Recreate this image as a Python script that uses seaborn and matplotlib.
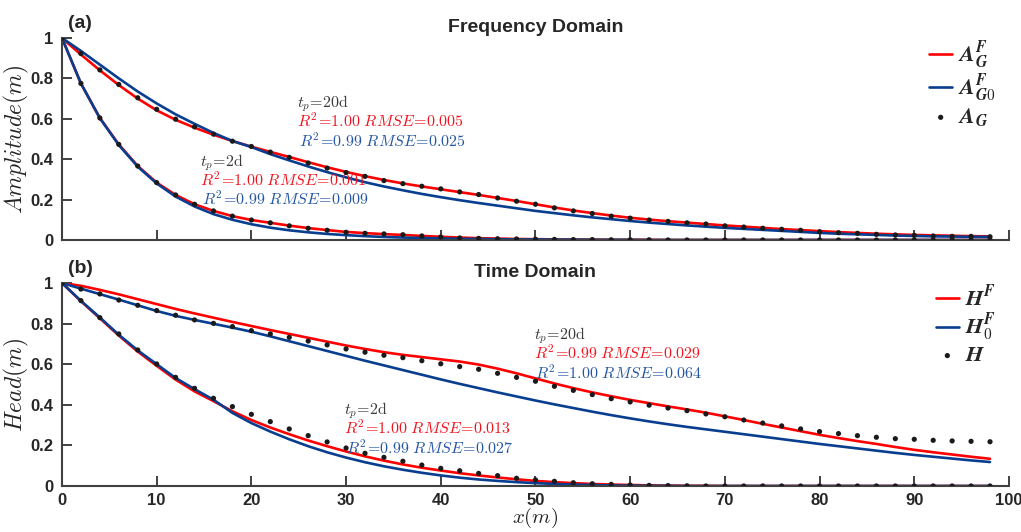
import numpy as np
import pandas as pd
import matplotlib
matplotlib.use('Agg')
import matplotlib.pyplot as plt
import seaborn as sns

# x positions of the observations / curves (m)
x = list(range(0, 100, 2))

# ---- (a) Frequency domain, amplitude ----
amp_obs_2d = [1.0, 0.775, 0.604, 0.473, 0.366, 0.284, 0.223, 0.177, 0.144, 0.118,
              0.099, 0.085, 0.070, 0.058, 0.048, 0.038, 0.033, 0.030, 0.026, 0.020,
              0.015, 0.010, 0.008, 0.006, 0.005, 0.004, 0.003, 0.002, 0.002, 0.001,
              0.001, 0.001, 0.0, 0.0, 0.0, 0.0, 0.0, 0.0, 0.0, 0.0,
              0.0, 0.0, 0.0, 0.0, 0.0, 0.0, 0.0, 0.0, 0.0, 0.0]
amp_fit_2d = [1.0, 0.775, 0.604, 0.473, 0.366, 0.284, 0.223, 0.177, 0.144, 0.118,
              0.099, 0.085, 0.071, 0.059, 0.049, 0.040, 0.034, 0.029, 0.025, 0.020,
              0.016, 0.012, 0.009, 0.007, 0.005, 0.004, 0.003, 0.002, 0.002, 0.001,
              0.001, 0.001, 0.0, 0.0, 0.0, 0.0, 0.0, 0.0, 0.0, 0.0,
              0.0, 0.0, 0.0, 0.0, 0.0, 0.0, 0.0, 0.0, 0.0, 0.0]
amp_fit0_2d = [1.0, 0.775, 0.603, 0.470, 0.363, 0.280, 0.215, 0.166, 0.128, 0.100,
               0.078, 0.061, 0.048, 0.038, 0.030, 0.024, 0.019, 0.015, 0.012, 0.010,
               0.008, 0.006, 0.005, 0.004, 0.003, 0.003, 0.002, 0.002, 0.001, 0.001,
               0.001, 0.0, 0.0, 0.0, 0.0, 0.0, 0.0, 0.0, 0.0, 0.0,
               0.0, 0.0, 0.0, 0.0, 0.0, 0.0, 0.0, 0.0, 0.0, 0.0]
amp_obs_20d = [1.0, 0.923, 0.842, 0.770, 0.704, 0.647, 0.598, 0.560, 0.524, 0.489,
               0.463, 0.435, 0.409, 0.381, 0.356, 0.334, 0.315, 0.294, 0.279, 0.266,
               0.253, 0.238, 0.225, 0.208, 0.192, 0.177, 0.159, 0.144, 0.131, 0.118,
               0.108, 0.099, 0.092, 0.085, 0.079, 0.070, 0.064, 0.058, 0.053, 0.048,
               0.041, 0.036, 0.033, 0.028, 0.025, 0.023, 0.020, 0.018, 0.018, 0.016]
amp_fit_20d = [1.0, 0.918, 0.840, 0.767, 0.700, 0.642, 0.595, 0.556, 0.521, 0.490,
               0.462, 0.436, 0.411, 0.385, 0.360, 0.337, 0.316, 0.297, 0.280, 0.265,
               0.251, 0.237, 0.223, 0.208, 0.193, 0.177, 0.161, 0.146, 0.133, 0.121,
               0.110, 0.101, 0.093, 0.086, 0.079, 0.072, 0.066, 0.060, 0.054, 0.049,
               0.044, 0.039, 0.035, 0.031, 0.028, 0.025, 0.023, 0.021, 0.019, 0.018]
amp_fit0_20d = [1.0, 0.936, 0.868, 0.800, 0.735, 0.676, 0.622, 0.575, 0.530, 0.490,
                0.460, 0.425, 0.394, 0.364, 0.336, 0.310, 0.286, 0.265, 0.246, 0.228,
                0.212, 0.197, 0.183, 0.170, 0.157, 0.144, 0.133, 0.122, 0.112, 0.103,
                0.094, 0.086, 0.079, 0.072, 0.066, 0.060, 0.055, 0.050, 0.045, 0.040,
                0.035, 0.031, 0.028, 0.025, 0.022, 0.020, 0.018, 0.017, 0.016, 0.015]

# ---- (b) Time domain, head ----
head_obs_2d = [1.0, 0.913, 0.829, 0.749, 0.670, 0.601, 0.535, 0.481, 0.432, 0.391,
               0.353, 0.317, 0.281, 0.248, 0.217, 0.187, 0.161, 0.141, 0.122, 0.103,
               0.087, 0.075, 0.062, 0.051, 0.038, 0.030, 0.023, 0.016, 0.011, 0.008,
               0.005, 0.003, 0.002, 0.001, 0.0, 0.0, 0.0, 0.0, 0.0, 0.0,
               0.0, 0.0, 0.0, 0.0, 0.0, 0.0, 0.0, 0.0, 0.0, 0.0]
head_fit_2d = [1.0, 0.910, 0.826, 0.741, 0.662, 0.592, 0.524, 0.466, 0.418, 0.368,
               0.325, 0.288, 0.255, 0.224, 0.196, 0.170, 0.146, 0.125, 0.106, 0.090,
               0.076, 0.063, 0.052, 0.042, 0.033, 0.025, 0.019, 0.014, 0.010, 0.007,
               0.005, 0.003, 0.002, 0.001, 0.001, 0.0, 0.0, 0.0, 0.0, 0.0,
               0.0, 0.0, 0.0, 0.0, 0.0, 0.0, 0.0, 0.0, 0.0, 0.0]
head_fit0_2d = [1.0, 0.912, 0.830, 0.745, 0.668, 0.600, 0.532, 0.477, 0.425, 0.360,
                0.310, 0.268, 0.230, 0.196, 0.166, 0.140, 0.117, 0.097, 0.080, 0.065,
                0.052, 0.041, 0.032, 0.025, 0.019, 0.014, 0.010, 0.007, 0.005, 0.003,
                0.002, 0.001, 0.001, 0.0, 0.0, 0.0, 0.0, 0.0, 0.0, 0.0,
                0.0, 0.0, 0.0, 0.0, 0.0, 0.0, 0.0, 0.0, 0.0, 0.0]
head_obs_20d = [1.0, 0.970, 0.946, 0.916, 0.890, 0.864, 0.841, 0.818, 0.801, 0.785,
                0.765, 0.749, 0.732, 0.714, 0.695, 0.675, 0.659, 0.644, 0.632, 0.617,
                0.602, 0.588, 0.575, 0.555, 0.535, 0.516, 0.491, 0.471, 0.450, 0.430,
                0.414, 0.398, 0.384, 0.371, 0.355, 0.341, 0.325, 0.310, 0.296, 0.281,
                0.268, 0.258, 0.248, 0.240, 0.233, 0.230, 0.225, 0.222, 0.220, 0.218]
head_fit_20d = [1.0, 0.986, 0.966, 0.944, 0.920, 0.896, 0.872, 0.850, 0.829, 0.808,
                0.788, 0.768, 0.749, 0.730, 0.711, 0.692, 0.675, 0.659, 0.646, 0.635,
                0.624, 0.613, 0.598, 0.578, 0.555, 0.530, 0.505, 0.482, 0.461, 0.442,
                0.424, 0.408, 0.392, 0.377, 0.361, 0.343, 0.325, 0.306, 0.288, 0.270,
                0.252, 0.236, 0.221, 0.207, 0.192, 0.178, 0.166, 0.155, 0.144, 0.134]
head_fit0_20d = [1.0, 0.972, 0.945, 0.918, 0.890, 0.862, 0.838, 0.818, 0.799, 0.780,
                 0.760, 0.737, 0.713, 0.689, 0.665, 0.641, 0.617, 0.594, 0.571, 0.548,
                 0.525, 0.503, 0.482, 0.461, 0.441, 0.421, 0.402, 0.384, 0.366, 0.349,
                 0.333, 0.318, 0.304, 0.291, 0.279, 0.267, 0.255, 0.243, 0.231, 0.219,
                 0.207, 0.196, 0.185, 0.174, 0.163, 0.153, 0.144, 0.135, 0.126, 0.118]

RED = '#ff0000'
BLUE = '#083e8f'
DOT = '#1a1a1a'
RED_TXT = '#f0141e'
BLUE_TXT = '#2456a4'
GREY_TXT = '#3a3a3a'

sns.set_style('ticks')
plt.rcParams['font.family'] = ['Liberation Sans', 'DejaVu Sans']
plt.rcParams['mathtext.fontset'] = 'cm'

fig = plt.figure(figsize=(10.21, 5.32), dpi=100)
ax1 = fig.add_axes([0.0607, 0.5489, 0.9275, 0.3797])
ax2 = fig.add_axes([0.0607, 0.0865, 0.9275, 0.3816])


def draw_panel(ax, fit_2d, fit0_2d, obs_2d, fit_20d, fit0_20d, obs_20d, labels):
    for fit, fit0, obs in [(fit_20d, fit0_20d, obs_20d), (fit_2d, fit0_2d, obs_2d)]:
        sns.lineplot(x=x, y=fit, ax=ax, color=RED, lw=1.9, label=labels[0])
        sns.lineplot(x=x, y=fit0, ax=ax, color=BLUE, lw=1.9, label=labels[1])
        sns.scatterplot(x=x, y=obs, ax=ax, color=DOT, s=14, edgecolor='none',
                        label=labels[2], zorder=5)
        labels = ['_nolegend_'] * 3
    ax.set_xlim(0, 100)
    ax.set_ylim(0, 1)
    ax.set_xticks(range(0, 101, 10))
    ax.set_yticks([0, 0.2, 0.4, 0.6, 0.8, 1])
    ax.set_yticklabels(['0', '0.2', '0.4', '0.6', '0.8', '1'])
    ax.tick_params(direction='in', length=7, width=1.3, color='#333333',
                   labelsize=12, labelcolor='#262626')
    ax.tick_params(axis='y', pad=6)
    ax.tick_params(axis='x', pad=5)
    for lab in ax.get_xticklabels() + ax.get_yticklabels():
        lab.set_fontweight('bold')
    sns.despine(ax=ax)
    for sp in ['left', 'bottom']:
        ax.spines[sp].set_linewidth(1.5)
        ax.spines[sp].set_color('#404040')
    ax.legend(loc='upper right', bbox_to_anchor=(1.0, 1.06), frameon=False,
              fontsize=16, handlelength=1.05, handletextpad=0.25,
              labelspacing=0.05, borderaxespad=0.2)
    ax.yaxis.set_label_coords(-0.033, 0.5)


def stats(ax, xt, yt, tp, r_red, e_red, r_blue, e_blue):
    eq = r'\!=\!'
    ax.text(xt, yt, r'$t_p%s\mathrm{%s}$' % (eq, tp), color=GREY_TXT, fontsize=11.5)
    ax.text(xt, yt - 0.096,
            r'$R^2%s%s\ RMSE%s%s$' % (eq, r_red, eq, e_red),
            color=RED_TXT, fontsize=11.5)
    ax.text(xt + 0.2, yt - 0.192,
            r'$R^2%s%s\ RMSE%s%s$' % (eq, r_blue, eq, e_blue),
            color=BLUE_TXT, fontsize=11.5)


draw_panel(ax1, amp_fit_2d, amp_fit0_2d, amp_obs_2d, amp_fit_20d, amp_fit0_20d, amp_obs_20d,
           [r'$\mathbfit{A}_{\mathbfit{G}}^{\mathbfit{F}}$',
            r'$\mathbfit{A}_{\mathbfit{G}\mathbf{0}}^{\mathbfit{F}}$',
            r'$\mathbfit{A}_{\mathbfit{G}}$'])
ax1.tick_params(labelbottom=False)
ax1.set_ylabel(r'$Amplitude(m)$', fontsize=17)
ax1.set_title('Frequency Domain', fontsize=14, fontweight='bold', pad=4)
ax1.text(0.006, 1.05, '(a)', transform=ax1.transAxes, fontsize=14, fontweight='bold')
stats(ax1, 24.8, 0.655, '20d', '1.00', '0.005', '0.99', '0.025')
stats(ax1, 14.6, 0.365, '2d', '1.00', '0.001', '0.99', '0.009')

draw_panel(ax2, head_fit_2d, head_fit0_2d, head_obs_2d, head_fit_20d, head_fit0_20d, head_obs_20d,
           [r'$\mathbfit{H}^{\mathbfit{F}}$',
            r'$\mathbfit{H}_{\mathbf{0}}^{\mathbfit{F}}$',
            r'$\mathbfit{H}$'])
ax2.set_ylabel(r'$Head(m)$', fontsize=17)
ax2.set_xlabel(r'$x(m)$', fontsize=15)
ax2.xaxis.set_label_coords(0.5, -0.1)
ax2.set_title('Time Domain', fontsize=14, fontweight='bold', pad=4)
ax2.text(0.006, 1.05, '(b)', transform=ax2.transAxes, fontsize=14, fontweight='bold')
stats(ax2, 49.8, 0.722, '20d', '0.99', '0.029', '1.00', '0.064')
stats(ax2, 29.8, 0.352, '2d', '1.00', '0.013', '0.99', '0.027')

fig.savefig('out.png', dpi=100)
